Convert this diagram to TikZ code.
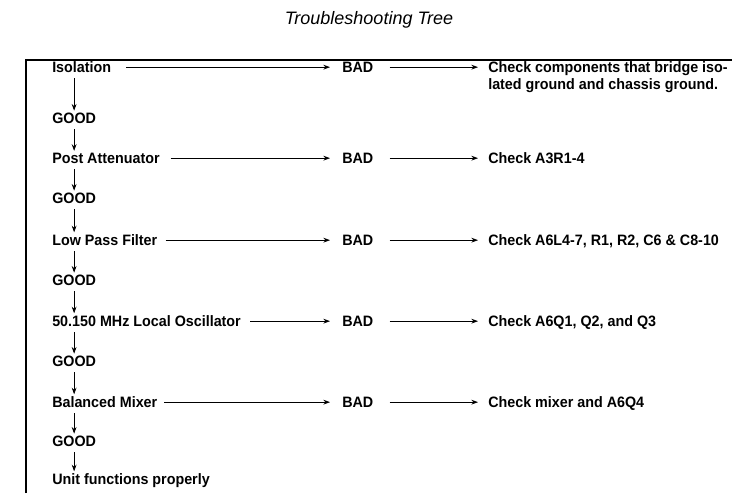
\documentclass[tikz,border=0pt]{standalone}
\usepackage{fontspec}
\setmainfont{Liberation Sans}
\newfontfamily\lblfont{Liberation Sans}[FakeStretch=0.95]
\usetikzlibrary{arrows.meta}
\begin{document}
\begin{tikzpicture}[x=0.75pt,y=-0.75pt,
  lbl/.style={font=\lblfont\bfseries\fontsize{11.3}{12.75}\selectfont, inner sep=0pt, anchor=base west},
  arr/.style={-{Stealth[length=5pt,width=3.6pt]}, line width=0.6pt},
  frame/.style={line width=1.2pt},
]
\useasboundingbox (0,0) rectangle (732,493);
\clip (0,0) rectangle (732,493);
\node[font=\itshape\fontsize{13.5}{16}\selectfont, inner sep=0pt] (title) at (369,20) {Troubleshooting Tree};
\draw[frame] (26,493) -- (26,60) -- (732,60);
% left column
\node[lbl] (iso)  at (52,72.5)  {Isolation};
\node[lbl] (g1)   at (52,123.5) {GOOD};
\node[lbl] (post) at (52,163.5) {Post Attenuator};
\node[lbl] (g2)   at (52,203.5) {GOOD};
\node[lbl] (lpf)  at (52,245.5) {Low Pass Filter};
\node[lbl] (g3)   at (52,285.5) {GOOD};
\node[lbl] (osc)  at (52,326.5) {50.150 MHz Local Oscillator};
\node[lbl] (g4)   at (52,366.5) {GOOD};
\node[lbl] (bm)   at (52,407.5) {Balanced Mixer};
\node[lbl] (g5)   at (52,446.5) {GOOD};
\node[lbl] (unit) at (52,484.5) {Unit functions properly};
% BAD column
\node[lbl] (b1) at (342,72.5)  {BAD};
\node[lbl] (b2) at (342,163.5) {BAD};
\node[lbl] (b3) at (342,245.5) {BAD};
\node[lbl] (b4) at (342,326.5) {BAD};
\node[lbl] (b5) at (342,407.5) {BAD};
% check column
\node[lbl, align=left] (c1) at (488,89.5) {Check components that bridge iso-\\lated ground and chassis ground.};
\node[lbl] (c2) at (488,163.5) {Check A3R1-4};
\node[lbl] (c3) at (488,245.5) {Check A6L4-7, R1, R2, C6 \& C8-10};
\node[lbl] (c4) at (488,326.5) {Check A6Q1, Q2, and Q3};
\node[lbl] (c5) at (488,407.5) {Check mixer and A6Q4};
% vertical arrows
\foreach \a/\b in {iso/g1,g1/post,post/g2,g2/lpf,lpf/g3,g3/osc,osc/g4,g4/bm,bm/g5,g5/unit}{
  \draw[arr, shorten <=4pt, shorten >=1.5pt] (\a.south -| g1.north) -- (\b.north -| g1.north);
}
% horizontal arrows
\foreach \a/\b/\c/\g in {iso/b1/c1/11, post/b2/c2/8, lpf/b3/c3/6, osc/b4/c4/7, bm/b5/c5/5}{
  \draw[arr, shorten <=\g pt, shorten >=9pt] ([yshift=4pt]\a.base east) -- ([yshift=4pt]\b.base west);
  \draw[arr, shorten <=12pt, shorten >=7.5pt] ([yshift=4pt]\b.base east) -- ([yshift=4pt]\b.base east -| \c.west);
}
\end{tikzpicture}
\end{document}
